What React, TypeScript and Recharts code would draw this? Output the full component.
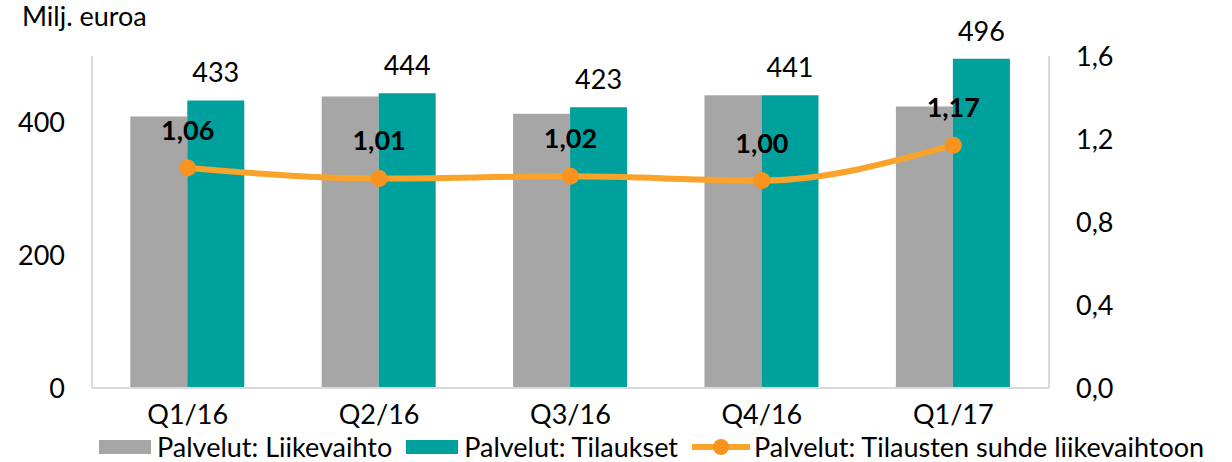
import React from "react"
import { ComposedChart, Bar, Line, XAxis, YAxis, LabelList } from "recharts"

// neljännekset
const categories = ["Q1/16", "Q2/16", "Q3/16", "Q4/16", "Q1/17"]
// Palvelut: Liikevaihto (milj. euroa)
const liikevaihto = [409, 439, 413, 441, 424]
// Palvelut: Tilaukset (milj. euroa)
const tilaukset = [433, 444, 423, 441, 496]
// tilausten suhde liikevaihtoon
const suhde = [1.06, 1.01, 1.02, 1.0, 1.17]

const leftTicks = [0, 200, 400]
const rightTicks = [0, 0.4, 0.8, 1.2, 1.6]

const GRAY = "#a6a6a6"
const TEAL = "#00a19d"
const ORANGE = "#f9a32a"
const ORANGE_DOT = "#f7931e"
const AXIS = "#d9d9d9"
const FONT = "Lato, 'Noto Sans', sans-serif"
const FS = 27

const fmt1 = (v: number) => v.toFixed(1).replace(".", ",")
const fmt2 = (v: number) => v.toFixed(2).replace(".", ",")

const data = categories.map((name, i) => ({
  name,
  liikevaihto: liikevaihto[i],
  tilaukset: tilaukset[i],
  suhde: suhde[i],
}))

const BarValue = (props: any) => {
  const { x, y, width, value } = props
  return (
    <text x={x + width / 2} y={y - 18} textAnchor="middle" fontSize={FS} fontFamily={FONT} fill="#000">
      {value}
    </text>
  )
}

const RatioValue = (props: any) => {
  const { x, y, value } = props
  return (
    <text x={x} y={y - 28} textAnchor="middle" fontSize={FS} fontWeight="bold" fontFamily={FONT} fill="#000">
      {fmt2(value)}
    </text>
  )
}

const legendText: React.CSSProperties = { fontSize: FS, fontFamily: FONT, color: "#000", lineHeight: "27px" }

export default function App() {
  return (
    <div style={{ position: "absolute", left: 0, top: 0, width: 1232, height: 462, background: "#fff" }}>
      <div style={{ position: "absolute", left: 22, top: 2, ...legendText }}>Milj. euroa</div>
      <ComposedChart
        width={1232}
        height={462}
        data={data}
        margin={{ top: 56, right: 0, bottom: 0, left: 0 }}
        barCategoryGap="20%"
        barGap={0}
      >
        <XAxis
          dataKey="name"
          height={74}
          tickLine={false}
          axisLine={{ stroke: AXIS, strokeWidth: 2 }}
          tickMargin={11}
          tick={{ fontSize: FS, fontFamily: FONT, fill: "#000" }}
        />
        <YAxis
          yAxisId="left"
          width={92}
          domain={[0, 500]}
          ticks={leftTicks}
          tickLine={false}
          axisLine={{ stroke: AXIS, strokeWidth: 2 }}
          tickMargin={21}
          tick={{ fontSize: FS, fontFamily: FONT, fill: "#000" }}
        />
        <YAxis
          yAxisId="right"
          orientation="right"
          width={183}
          domain={[0, 1.6]}
          ticks={rightTicks}
          tickFormatter={fmt1}
          tickLine={false}
          axisLine={{ stroke: AXIS, strokeWidth: 2 }}
          tickMargin={21}
          tick={{ fontSize: FS, fontFamily: FONT, fill: "#000" }}
        />
        <Bar yAxisId="left" dataKey="liikevaihto" fill={GRAY} isAnimationActive={false} />
        <Bar yAxisId="left" dataKey="tilaukset" fill={TEAL} isAnimationActive={false}>
          <LabelList dataKey="tilaukset" content={BarValue} />
        </Bar>
        <Line
          yAxisId="right"
          type="monotone"
          dataKey="suhde"
          stroke={ORANGE}
          strokeWidth={6}
          dot={{ r: 8.5, fill: ORANGE_DOT, stroke: ORANGE_DOT, strokeWidth: 0 }}
          activeDot={false}
          isAnimationActive={false}
        >
          <LabelList dataKey="suhde" content={RatioValue} />
        </Line>
      </ComposedChart>
      <div style={{ position: "absolute", left: 99, top: 433, display: "flex", alignItems: "center", whiteSpace: "nowrap" }}>
        <svg width={52} height={14} style={{ marginRight: 6 }}>
          <rect width={52} height={14} fill={GRAY} />
        </svg>
        <span style={{ ...legendText, marginRight: 14 }}>Palvelut: Liikevaihto</span>
        <svg width={52} height={14} style={{ marginRight: 6 }}>
          <rect width={52} height={14} fill={TEAL} />
        </svg>
        <span style={{ ...legendText, marginRight: 14 }}>Palvelut: Tilaukset</span>
        <svg width={58} height={18} style={{ marginRight: 4 }}>
          <line x1={0} y1={9} x2={58} y2={9} stroke={ORANGE} strokeWidth={6} />
          <circle cx={29} cy={9} r={8} fill={ORANGE_DOT} />
        </svg>
        <span style={legendText}>Palvelut: Tilausten suhde liikevaihtoon</span>
      </div>
    </div>
  )
}
